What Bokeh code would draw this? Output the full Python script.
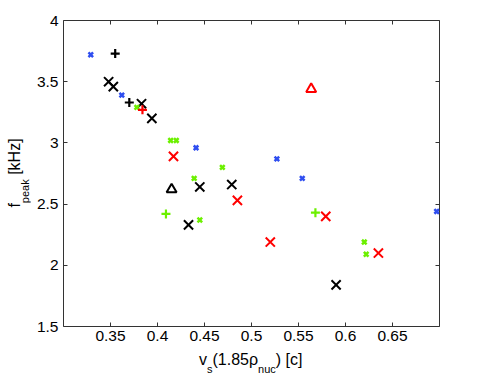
from bokeh.plotting import figure
from bokeh.models import FixedTicker, LinearAxis, CustomJSTickFormatter, Div
from bokeh.layouts import row, column
from bokeh.embed import file_html
from bokeh.resources import INLINE

# ---- data ----
blue_x_vs = [0.329, 0.362, 0.441, 0.527, 0.554, 0.697]
blue_x_f = [3.72, 3.39, 2.96, 2.87, 2.71, 2.44]

green_x_vs = [0.378, 0.414, 0.420, 0.439, 0.445, 0.469, 0.620, 0.622]
green_x_f = [3.29, 3.02, 3.02, 2.71, 2.37, 2.80, 2.19, 2.09]

green_plus_vs = [0.409, 0.568]
green_plus_f = [2.42, 2.43]

black_plus_vs = [0.355, 0.370]
black_plus_f = [3.73, 3.33]

red_plus_vs = [0.384]
red_plus_f = [3.27]

black_X_vs = [0.348, 0.353, 0.383, 0.394, 0.445, 0.433, 0.479, 0.590]
black_X_f = [3.50, 3.46, 3.32, 3.20, 2.64, 2.33, 2.66, 1.84]

red_X_vs = [0.417, 0.485, 0.579, 0.520, 0.635]
red_X_f = [2.89, 2.53, 2.40, 2.19, 2.10]

black_tri_vs = [0.415]
black_tri_f = [2.62]

red_tri_vs = [0.5635]
red_tri_f = [3.44]

x_ticks = [0.35, 0.4, 0.45, 0.5, 0.55, 0.6, 0.65]
x_tick_labels = ["0.35", "0.4", "0.45", "0.5", "0.55", "0.6", "0.65"]
y_ticks = [1.5, 2, 2.5, 3, 3.5, 4]
y_tick_labels = ["1.5", "2", "2.5", "3", "3.5", "4"]

FONT = "Liberation Sans"
AX = "#333333"
BLUE = "#2f4ef0"
GREEN = "#6cf000"
RED = "#ff0000"

YDIV_W = 30
P_W = 450
P_H = 350
XDIV_H = 24

p = figure(width=P_W, height=P_H, x_range=(0.3, 0.7), y_range=(1.5, 4),
           output_backend="svg", toolbar_location=None,
           min_border_left=33, min_border_right=P_W - 33 - 376, min_border_top=20,
           min_border_bottom=24, margin=0)
p.xgrid.visible = False
p.ygrid.visible = False
p.outline_line_color = AX
p.outline_line_width = 1
p.background_fill_color = "white"
p.border_fill_color = "white"

def style_axis(ax, ticks, labels=None):
    ax.ticker = FixedTicker(ticks=ticks)
    ax.axis_line_color = None
    ax.major_tick_in = 4
    ax.major_tick_out = 0
    ax.major_tick_line_color = AX
    ax.minor_tick_line_color = None
    ax.major_label_text_font = FONT
    ax.major_label_text_font_size = "15.5px"
    ax.major_label_text_color = "black"
    if labels is not None:
        ax.major_label_overrides = dict(zip(ticks, labels))

style_axis(p.xaxis[0], x_ticks, x_tick_labels)
p.xaxis[0].major_label_standoff = 4
style_axis(p.yaxis[0], y_ticks, y_tick_labels)
p.yaxis[0].major_label_standoff = 5

blank = CustomJSTickFormatter(code="return ''")
top = LinearAxis(formatter=blank, major_label_standoff=0)
style_axis(top, x_ticks)
right = LinearAxis(formatter=blank, major_label_standoff=0)
style_axis(right, y_ticks)
p.add_layout(top, "above")
p.add_layout(right, "right")

# ---- marks ----
p.scatter(black_X_vs, black_X_f, marker="x", size=13, line_width=2, line_color="black")
p.scatter(red_X_vs, red_X_f, marker="x", size=13, line_width=2, line_color=RED)
p.scatter(green_x_vs, green_x_f, marker="x", size=6.5, line_width=2.5, line_color=GREEN)
p.scatter(blue_x_vs, blue_x_f, marker="x", size=6.5, line_width=2.5, line_color=BLUE)
p.scatter(black_plus_vs, black_plus_f, marker="cross", size=9, line_width=2.2, line_color="black")
p.scatter(green_plus_vs, green_plus_f, marker="cross", size=9, line_width=2.2, line_color=GREEN)
p.scatter(red_plus_vs, red_plus_f, marker="cross", size=9, line_width=2.2, line_color=RED)
p.scatter(black_tri_vs, black_tri_f, marker="triangle", size=10, line_width=2, line_color="black", fill_color="white")
p.scatter(red_tri_vs, red_tri_f, marker="triangle", size=10, line_width=2, line_color=RED, fill_color="white")

# ---- axis labels (HTML, with subscripts) ----
TXT = f"font-family:'{FONT}';font-size:16px;line-height:16px;color:black;white-space:nowrap;"
SUB = "font-size:11px;position:relative;top:8.5px;"

xlabel_html = (f"<div style=\"{TXT}padding-left:199px;padding-top:1.5px;height:16px;\">"
               f"v<span style=\"{SUB}\">s</span>(1.85ρ<span style=\"{SUB}\">nuc</span>) [c]</div>")
ylabel_html = (f"<div style=\"width:29px;height:346px;display:flex;align-items:center;justify-content:center;\">"
               f"<span style=\"{TXT}display:inline-block;height:16px;transform:rotate(-90deg);\">"
               f"f<span style=\"{SUB}\">peak</span> [kHz]</span></div>")

xdiv = Div(text=xlabel_html, width=YDIV_W + P_W, height=XDIV_H, margin=0)
ydiv = Div(text=ylabel_html, width=YDIV_W, height=P_H, margin=0)

layout = column(row(ydiv, p, spacing=0, margin=0), xdiv, spacing=0, margin=0)

open("out.html", "w").write(file_html(layout, INLINE))
